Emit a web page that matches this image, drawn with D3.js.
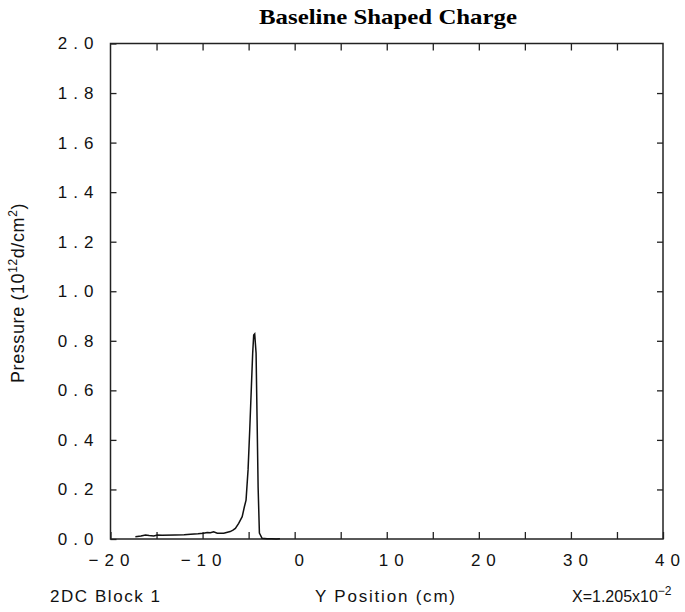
<!DOCTYPE html>
<html>
<head>
<meta charset="utf-8">
<script src="https://cdn.jsdelivr.net/npm/d3@7"></script>
<style>
  body { margin: 0; background: #fff; }
  svg { display: block; }
  .tick text { font-family: "Liberation Sans", Arial, sans-serif; font-size: 17px; fill: #111; letter-spacing: 6px; }
  .lbl { font-family: "Liberation Sans", Arial, sans-serif; fill: #111; }
</style>
</head>
<body>
<svg id="chart"></svg>
<script>
// Y position (cm) and pressure (10^12 d/cm^2)
const posY = [-17.3, -16.7, -16.2, -15.8, -15.3, -14.9, -14.4, -13.0, -12.0, -11.3,
  -10.5, -9.9, -9.5, -9.15, -8.8, -8.4, -7.7, -7.0, -6.7, -6.44,
  -6.08, -5.7, -5.46, -5.28, -5.06, -4.88, -4.7, -4.56, -4.45, -4.34,
  -4.19, -4.08, -3.97, -3.83, -3.54, -3.0, -2.5, -2.0, -1.6];
const pressure = [0.009, 0.012, 0.016, 0.014, 0.012, 0.016, 0.015, 0.016, 0.017, 0.019,
  0.021, 0.023, 0.026, 0.025, 0.029, 0.023, 0.023, 0.030, 0.036, 0.043,
  0.063, 0.090, 0.130, 0.157, 0.28, 0.44, 0.615, 0.75, 0.823, 0.828,
  0.75, 0.48, 0.21, 0.024, 0.003, 0.001, 0.001, 0.0, 0.001];

const xTicks = [-20, -15, -10, -5, 0, 5, 10, 15, 20, 25, 30, 35, 40];
const xLabels = [-20, -10, 0, 10, 20, 30, 40];
const yTicks = [0, 0.2, 0.4, 0.6, 0.8, 1.0, 1.2, 1.4, 1.6, 1.8, 2.0];

const w = 685, h = 612;
const mLeft = 110.5, mRight = 663, mTop = 43.5, mBottom = 539;

const svg = d3.select('#chart').attr('width', w).attr('height', h);

const xScale = d3.scaleLinear().domain([-20, 40]).range([mLeft, mRight]);
const yScale = d3.scaleLinear().domain([0, 2]).range([mBottom, mTop]);

// inward ticks on all four sides, labels only left and bottom
const xAxis = d3.axisBottom(xScale).tickValues(xTicks).tickSizeInner(-7).tickSizeOuter(0).tickPadding(15)
  .tickFormat(d => xLabels.includes(d) ? d3.format('d')(d) : '');
const xTop = d3.axisTop(xScale).tickValues(xTicks.slice(1, -1)).tickSizeInner(-7).tickSizeOuter(0).tickFormat('');
const yAxis = d3.axisLeft(yScale).tickValues(yTicks).tickSizeInner(-6).tickSizeOuter(0).tickPadding(11)
  .tickFormat(d3.format('.1f'));
const yRight = d3.axisRight(yScale).tickValues(yTicks.slice(1, -1)).tickSizeInner(-6).tickSizeOuter(0).tickFormat('');

const gx = svg.append('g').attr('transform', `translate(0,${mBottom})`).call(xAxis);
gx.selectAll('.tick text').attr('dx', d => d < 0 ? 1 : 7);
svg.append('g').attr('transform', `translate(0,${mTop})`).call(xTop);
svg.append('g').attr('transform', `translate(${mLeft},0)`).call(yAxis);
svg.append('g').attr('transform', `translate(${mRight},0)`).call(yRight);

svg.selectAll('.domain').remove();
svg.selectAll('.tick line').attr('stroke', '#222').attr('stroke-width', 1.3);

svg.append('rect')
  .attr('x', mLeft).attr('y', mTop)
  .attr('width', mRight - mLeft).attr('height', mBottom - mTop)
  .attr('fill', 'none').attr('stroke', '#222').attr('stroke-width', 1.5);

const line = d3.line().x((d, i) => xScale(posY[i])).y(d => yScale(d));
svg.append('path')
  .datum(pressure)
  .attr('d', line)
  .attr('fill', 'none')
  .attr('stroke', '#111')
  .attr('stroke-width', 1.5);

// title
svg.append('text')
  .attr('x', 388).attr('y', 24)
  .attr('text-anchor', 'middle')
  .style('font-family', '"Liberation Serif", "Times New Roman", serif')
  .style('font-weight', 'bold').style('font-size', '21px')
  .attr('textLength', 258).attr('lengthAdjust', 'spacingAndGlyphs')
  .text('Baseline Shaped Charge');

// y axis title
const yt = svg.append('text').attr('class', 'lbl')
  .attr('transform', 'translate(24,293) rotate(-90)')
  .attr('text-anchor', 'middle').style('font-size', '18px').style('letter-spacing', '0.6px');
yt.append('tspan').text('Pressure  (10');
yt.append('tspan').attr('dy', -7).style('font-size', '12px').text('12');
yt.append('tspan').attr('dy', 7).text('d/cm');
yt.append('tspan').attr('dy', -7).style('font-size', '12px').text('2');
yt.append('tspan').attr('dy', 7).text(')');

// bottom texts
svg.append('text').attr('class', 'lbl')
  .attr('x', 50).attr('y', 602).style('font-size', '17px')
  .attr('textLength', 110).attr('lengthAdjust', 'spacing')
  .text('2DC  Block  1');
svg.append('text').attr('class', 'lbl')
  .attr('x', 315).attr('y', 602).style('font-size', '17px')
  .attr('textLength', 140).attr('lengthAdjust', 'spacing')
  .text('Y  Position  (cm)');
const xt = svg.append('text').attr('class', 'lbl')
  .attr('x', 572).attr('y', 602).style('font-size', '16px');
xt.append('tspan').text('X=1.205x10');
xt.append('tspan').attr('dy', -7).style('font-size', '12px').text('−2');
</script>
</body>
</html>
